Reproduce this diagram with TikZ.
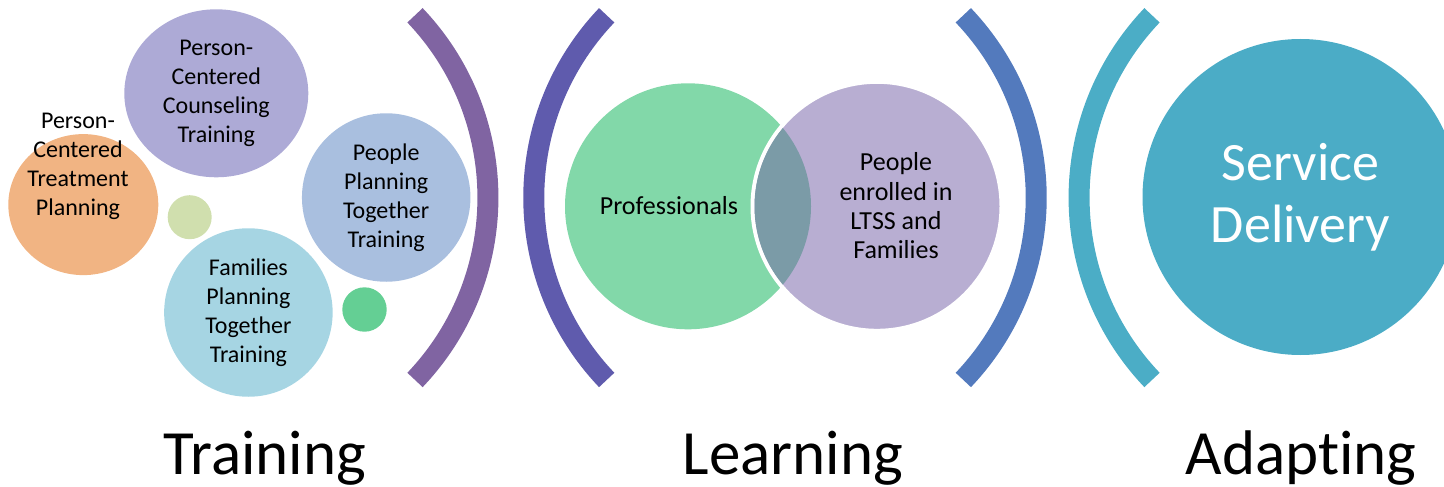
\documentclass[tikz,border=0pt]{standalone}
\usepackage{fontspec}
\setmainfont{Carlito}[Ligatures=NoCommon]
\usepackage{tikz}
\usetikzlibrary{shapes.geometric}

\definecolor{peach}{HTML}{F1B483}
\definecolor{lavender}{HTML}{ADAAD6}
\definecolor{skyblue}{HTML}{A9BFDF}
\definecolor{paleblue}{HTML}{A6D5E3}
\definecolor{palegreen}{HTML}{D0DFAE}
\definecolor{mintdot}{HTML}{64CF94}
\definecolor{mint}{HTML}{82D8A9}
\definecolor{lilac}{HTML}{B8AED2}
\definecolor{overlap}{HTML}{7B9BA7}
\definecolor{arcA}{HTML}{8064A2}
\definecolor{arcB}{HTML}{5F5BAD}
\definecolor{arcC}{HTML}{537ABD}
\definecolor{arcD}{HTML}{4BADC6}
\definecolor{teal}{HTML}{4BACC6}

\tikzset{
  bubble/.style={circle, inner sep=0pt, align=center, font=\fontsize{24}{29}\selectfont},
  oval/.style={ellipse, inner sep=0pt, align=center, font=\fontsize{24}{29}\selectfont},
  venntext/.style={align=center, inner sep=0pt, font=\fontsize{26}{29.3}\selectfont},
  bracket/.style={line width=21pt},
  stage/.style={anchor=base, inner sep=0pt, font=\fontsize{63}{70}\selectfont}
}

\begin{document}
\begin{tikzpicture}[x=1pt,y=1pt,yscale=-1,xscale=1]
    \useasboundingbox (0,0) rectangle (1444,487);
    \clip (0,0) rectangle (1444,487);

    %Shape: Circles of the training part
    \node[oval, fill=peach, minimum width=150, minimum height=141] (treat) at (83.3,204.6) {};
    \node[oval, fill=lavender, minimum width=184, minimum height=168] (couns) at (216.3,93.3) {Person-\\Centered\\Counseling\\Training};
    \node[bubble, fill=skyblue, minimum size=168.5] (ppt) at (386.2,197.5) {People\\Planning\\Together\\Training};
    \node[bubble, fill=paleblue, minimum size=168.5] (fpt) at (248.4,312.5) {Families\\Planning\\Together\\Training};
    \node[bubble, fill=palegreen, minimum size=44] (dotA) at (189.7,217.2) {};
    \node[bubble, fill=mintdot, minimum size=44.4] (dotB) at (364.5,309.5) {};
    % Text Node
    \node[align=center, inner sep=0pt, font=\fontsize{24}{29}\selectfont] (treattxt) at (78,166.5) {Person-\\Centered\\Treatment\\Planning};

    %Shape: Arc
    \draw[bracket, arcA] (415,15.3) arc[start angle=-43.6, end angle=43.6, radius=264.4];
    %Shape: Arc
    \draw[bracket, arcB] (606.7,15.3) arc[start angle=223.6, end angle=136.4, radius=264.4];

    %Shape: Venn of the learning part
    \node[circle, fill=mint, inner sep=0pt, minimum size=246] (prof) at (688,206.3) {};
    \node[circle, fill=lilac, draw=white, line width=4pt, inner sep=0pt, minimum size=249] (enrol) at (877,206.3) {};
    \begin{scope}
      \clip (prof.center) circle (123);
      \fill[overlap] (enrol.center) circle (122.5);
    \end{scope}
    % Text Node
    \node[venntext] (proftxt) at (669,206) {Professionals};
    % Text Node
    \node[venntext] (enroltxt) at (896,206) {People\\enrolled in\\LTSS and\\Families};

    %Shape: Arc
    \draw[bracket, arcC] (963.3,15.3) arc[start angle=-43.6, end angle=43.6, radius=264.4];
    %Shape: Arc
    \draw[bracket, arcD] (1152,15.3) arc[start angle=223.6, end angle=136.4, radius=264.4];

    %Shape: Circle of the adapting part
    \node[circle, fill=teal, inner sep=0pt, minimum size=316, align=center, text=white,
          font=\fontsize{54}{61.6}\selectfont] (serv) at (1300.5,197) {Service\\Delivery};

    % Text Node
    \node[stage] (train) at (265,474) {Training};
    % Text Node
    \node[stage] (learn) at (793,474) {Learning};
    % Text Node
    \node[stage] (adapt) at (1301,474) {Adapting};
\end{tikzpicture}
\end{document}
